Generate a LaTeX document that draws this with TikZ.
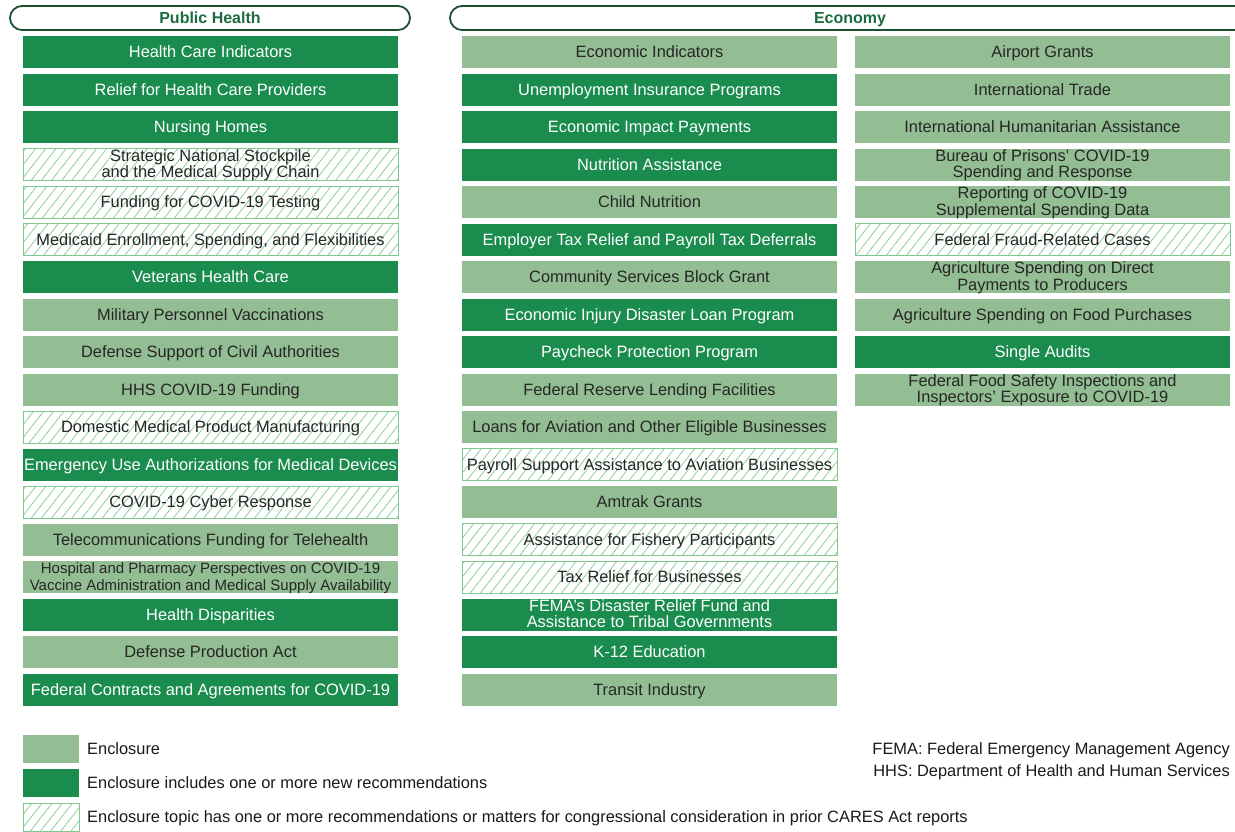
\documentclass[tikz,border=0pt]{standalone}
\usepackage{fontspec}
\setmainfont{Liberation Sans}
\usetikzlibrary{patterns.meta}
\definecolor{darkgrn}{HTML}{1A8C4E}
\definecolor{lightgrn}{HTML}{93BD93}
\definecolor{hatchgrn}{HTML}{7FC98F}
\definecolor{rimgrn}{HTML}{1B4F32}
\definecolor{headgrn}{HTML}{1B6B3E}
\tikzset{
  box/.style={minimum width=375pt, minimum height=32pt, inner sep=0pt, align=center,
    text height=13pt, text depth=1.2pt, font=\fontsize{16.4}{16.8}\selectfont},
  twoline/.style={text height=29pt, text depth=2.2pt},
  dark/.style={box, fill=darkgrn, text=white},
  light/.style={box, fill=lightgrn, text=black!85},
  hatched/.style={box, draw=hatchgrn, line width=0.8pt, text=black!85,
    pattern={Lines[angle=52, distance=8pt, line width=0.7pt]}, pattern color=hatchgrn},
  header/.style={draw=rimgrn, line width=1.8pt, rounded corners=12pt, inner sep=0pt,
    text height=13pt, text depth=1.2pt, text=headgrn, font=\bfseries\fontsize{16}{16}\selectfont},
  legtext/.style={anchor=west, inner sep=0pt, text height=13pt, text depth=1.2pt,
    font=\fontsize{16.4}{16.8}\selectfont, text=black!90},
}
\begin{document}
\begin{tikzpicture}[x=1pt,y=-1pt]
  \useasboundingbox (0,0) rectangle (1235,831);

  % headers
  \node[header, minimum width=400pt, minimum height=24pt] (health) at (210,18) {Public Health};
  \node[header, minimum width=800pt, minimum height=24pt] (economy) at (850,18) {Economy};

  % public health column
  \node[dark]    (ph0)  at (210.5,52)    {Health Care Indicators};
  \node[dark]    (ph1)  at (210.5,89.5)  {Relief for Health Care Providers};
  \node[dark]    (ph2)  at (210.5,127)   {Nursing Homes};
  \node[hatched, twoline] (ph3)  at (210.5,164.5) {Strategic National Stockpile\\and the Medical Supply Chain};
  \node[hatched] (ph4)  at (210.5,202)   {Funding for COVID-19 Testing};
  \node[hatched] (ph5)  at (210.5,239.5) {Medicaid Enrollment, Spending, and Flexibilities};
  \node[dark]    (ph6)  at (210.5,277)   {Veterans Health Care};
  \node[light]   (ph7)  at (210.5,314.5) {Military Personnel Vaccinations};
  \node[light]   (ph8)  at (210.5,352)   {Defense Support of Civil Authorities};
  \node[light]   (ph9)  at (210.5,389.5) {HHS COVID-19 Funding};
  \node[hatched] (ph10) at (210.5,427)   {Domestic Medical Product Manufacturing};
  \node[dark]    (ph11) at (210.5,464.5) {Emergency Use Authorizations for Medical Devices};
  \node[hatched] (ph12) at (210.5,502)   {COVID-19 Cyber Response};
  \node[light]   (ph13) at (210.5,539.5) {Telecommunications Funding for Telehealth};
  \node[light, twoline, font=\fontsize{15}{16.8}\selectfont] (ph14) at (210.5,577) {Hospital and Pharmacy Perspectives on COVID-19\\Vaccine Administration and Medical Supply Availability};
  \node[dark]    (ph15) at (210.5,614.5) {Health Disparities};
  \node[light]   (ph16) at (210.5,652)   {Defense Production Act};
  \node[dark]    (ph17) at (210.5,689.5) {Federal Contracts and Agreements for COVID-19};

  % economy, first column
  \node[light]   (ec0)  at (649.5,52)    {Economic Indicators};
  \node[dark]    (ec1)  at (649.5,89.5)  {Unemployment Insurance Programs};
  \node[dark]    (ec2)  at (649.5,127)   {Economic Impact Payments};
  \node[dark]    (ec3)  at (649.5,164.5) {Nutrition Assistance};
  \node[light]   (ec4)  at (649.5,202)   {Child Nutrition};
  \node[dark]    (ec5)  at (649.5,239.5) {Employer Tax Relief and Payroll Tax Deferrals};
  \node[light]   (ec6)  at (649.5,277)   {Community Services Block Grant};
  \node[dark]    (ec7)  at (649.5,314.5) {Economic Injury Disaster Loan Program};
  \node[dark]    (ec8)  at (649.5,352)   {Paycheck Protection Program};
  \node[light]   (ec9)  at (649.5,389.5) {Federal Reserve Lending Facilities};
  \node[light]   (ec10) at (649.5,427)   {Loans for Aviation and Other Eligible Businesses};
  \node[hatched] (ec11) at (649.5,464.5) {Payroll Support Assistance to Aviation Businesses};
  \node[light]   (ec12) at (649.5,502)   {Amtrak Grants};
  \node[hatched] (ec13) at (649.5,539.5) {Assistance for Fishery Participants};
  \node[hatched] (ec14) at (649.5,577)   {Tax Relief for Businesses};
  \node[dark, twoline] (ec15) at (649.5,614.5) {FEMA's Disaster Relief Fund and\\Assistance to Tribal Governments};
  \node[dark]    (ec16) at (649.5,652)   {K-12 Education};
  \node[light]   (ec17) at (649.5,689.5) {Transit Industry};

  % economy, second column
  \node[light]   (ex0) at (1042.5,52)    {Airport Grants};
  \node[light]   (ex1) at (1042.5,89.5)  {International Trade};
  \node[light]   (ex2) at (1042.5,127)   {International Humanitarian Assistance};
  \node[light, twoline] (ex3) at (1042.5,164.5) {Bureau of Prisons' COVID-19\\Spending and Response};
  \node[light, twoline] (ex4) at (1042.5,202)   {Reporting of COVID-19\\Supplemental Spending Data};
  \node[hatched] (ex5) at (1042.5,239.5) {Federal Fraud-Related Cases};
  \node[light, twoline] (ex6) at (1042.5,277)   {Agriculture Spending on Direct\\Payments to Producers};
  \node[light]   (ex7) at (1042.5,314.5) {Agriculture Spending on Food Purchases};
  \node[dark]    (ex8) at (1042.5,352)   {Single Audits};
  \node[light, twoline] (ex9) at (1042.5,389.5) {Federal Food Safety Inspections and\\Inspectors' Exposure to COVID-19};

  % legend
  \node[light, minimum width=56pt, minimum height=28pt]   (keylight) at (51,749) {};
  \node[dark, minimum width=56pt, minimum height=28pt]    (keydark)  at (51,783) {};
  \node[hatched, minimum width=56pt, minimum height=28pt] (keyhatch) at (51,817) {};
  \node[legtext] (keylighttxt) at (87,749) {Enclosure};
  \node[legtext] (keydarktxt)  at (87,783) {Enclosure includes one or more new recommendations};
  \node[legtext] (keyhatchtxt) at (87,817) {Enclosure topic has one or more recommendations or matters for congressional consideration in prior CARES Act reports};

  % abbreviations
  \node[legtext, anchor=east] (fema) at (1230,749) {FEMA: Federal Emergency Management Agency};
  \node[legtext, anchor=east] (hhs)  at (1230,771) {HHS: Department of Health and Human Services};
\end{tikzpicture}
\end{document}
